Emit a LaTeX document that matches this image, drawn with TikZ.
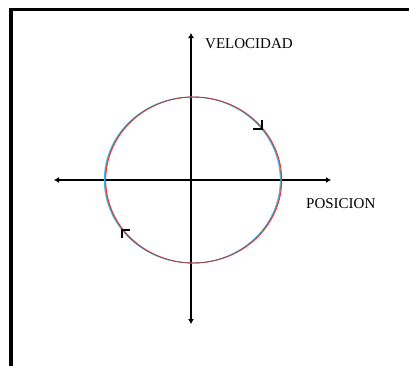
\documentclass[tikz,border=0pt]{standalone}
\usepackage{fontspec}
\setmainfont{Liberation Serif}
\usetikzlibrary{arrows.meta}
\begin{document}
\begin{tikzpicture}[x=1pt,y=-1pt,
  axis/.style={line width=1.1pt,{Latex[length=5pt,width=6pt]}-{Latex[length=5pt,width=6pt]}},
  lbl/.style={anchor=base west,inner sep=0pt,font=\fontsize{15}{15}\selectfont},
  dirmark/.style={line width=1.3pt,black}]
\useasboundingbox (0,0) rectangle (409,365);
\fill[white] (0,0) rectangle (409,365);
% frame
\draw[line width=3.5pt,black] (11,370) -- (11,9.5) -- (415,9.5);
% axes
\coordinate (xl) at (54,180);
\coordinate (xr) at (331,180);
\coordinate (yt) at (191,33);
\coordinate (yb) at (191,324);
\draw[axis] (xl) -- (xr);
\draw[axis] (yt) -- (yb);
% orbit
\coordinate (c) at (193,180);
\draw[cyan!80!white,line width=0.9pt] ([xshift=-0.7pt]c) ellipse[x radius=88,y radius=83];
\draw[red!85!white,line width=0.9pt] ([xshift=0.7pt]c) ellipse[x radius=88,y radius=83];
\draw[black!60,line width=0.5pt] (c) ellipse[x radius=88,y radius=83];
% direction marks (corner + two arms)
\coordinate (m1a) at (262,120);
\coordinate (m1)  at (262,129);
\coordinate (m1b) at (253,129);
\coordinate (m2a) at (130,230);
\coordinate (m2)  at (122,230);
\coordinate (m2b) at (122,238);
\draw[dirmark] (m1a) -- (m1) -- (m1b);
\draw[dirmark] (m2a) -- (m2) -- (m2b);
% labels
\node[lbl] (vel) at (205,48) {VELOCIDAD};
\node[lbl] (pos) at (306,208) {POSICION};
\end{tikzpicture}
\end{document}
